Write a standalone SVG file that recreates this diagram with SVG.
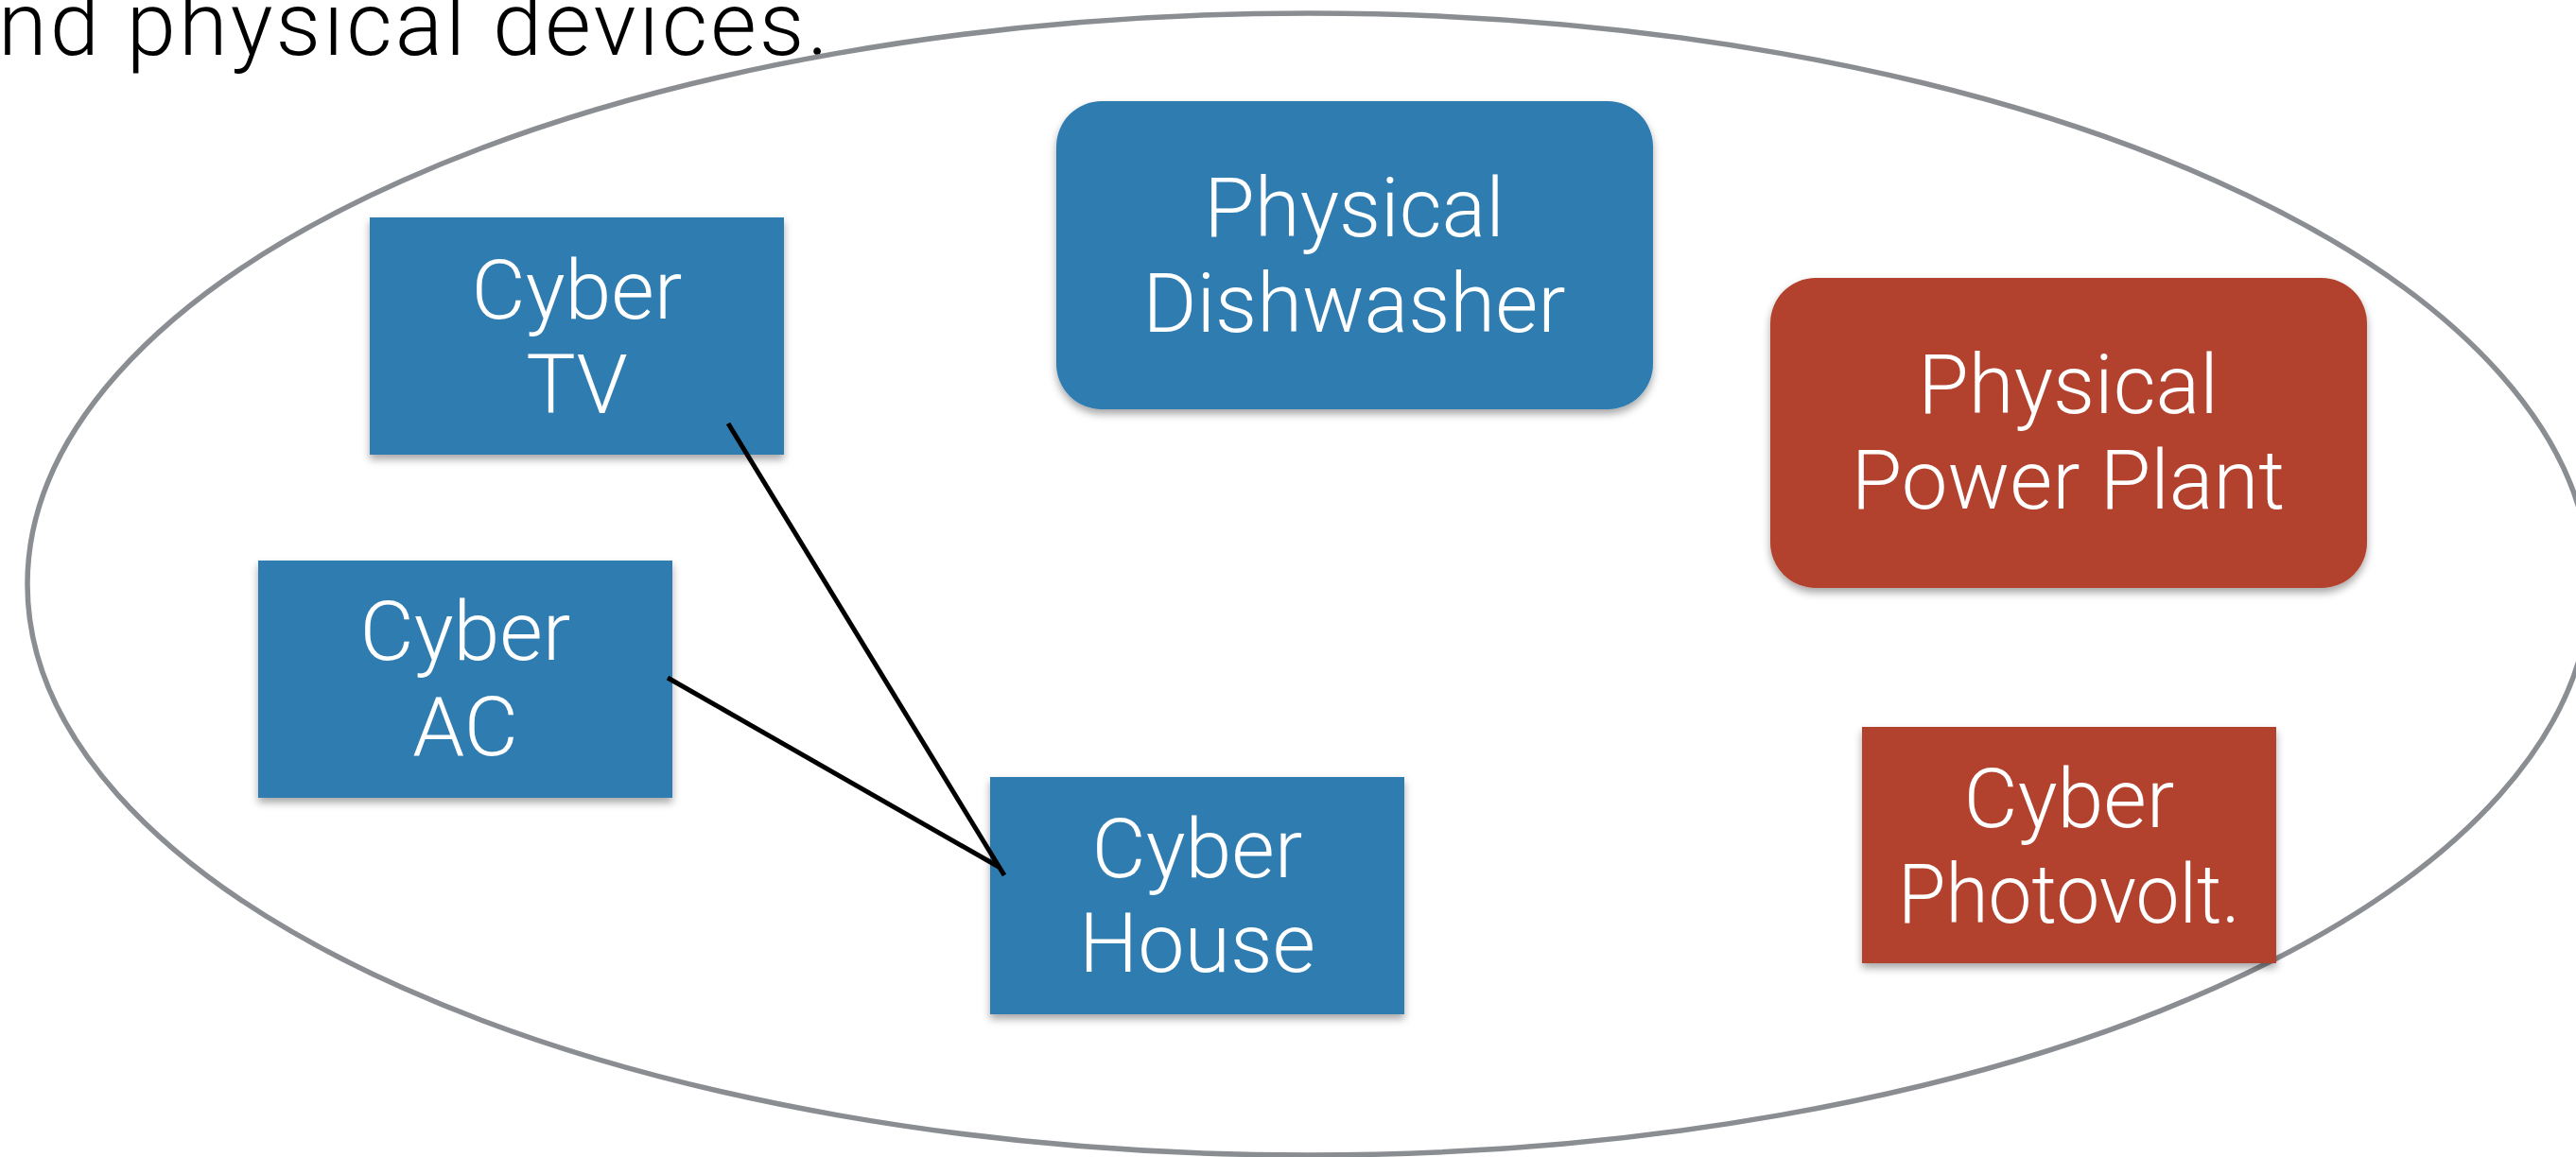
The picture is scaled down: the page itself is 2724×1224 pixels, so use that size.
<svg xmlns="http://www.w3.org/2000/svg" width="2724" height="1224" viewBox="0 0 2724 1224">
  <defs>
    <filter id="shadow" x="-10%" y="-10%" width="120%" height="130%">
      <feDropShadow dx="0" dy="5" stdDeviation="4" flood-color="#000" flood-opacity="0.35"/>
    </filter>
  </defs>
  <style>
    .label { font-family: Roboto, "Liberation Sans", Arial, sans-serif; font-weight: 300; fill: #ffffff; text-anchor: middle; }
    .cyber { font-size: 88px; }
    .phys { font-size: 87px; }
    .blue { fill: #2e7bb0; filter: url(#shadow); }
    .red { fill: #b2432f; filter: url(#shadow); }
    .title { font-family: Roboto, "Liberation Sans", Arial, sans-serif; font-weight: 300; font-size: 94px; fill: #000000; }
    .boundary { fill: none; stroke: #8a8d91; stroke-width: 5.5; }
    .link { stroke: #000000; stroke-width: 5; fill: none; }
  </style>

  <rect x="0" y="0" width="2724" height="1224" fill="#ffffff"/>

  <!-- heading line, partly off the top-left edge -->
  <text class="title" x="-2" y="58" textLength="878" lengthAdjust="spacing">nd physical devices.</text>

  <!-- grouping boundary -->
  <ellipse class="boundary" cx="1384" cy="618" rx="1355" ry="604"/>

  <g id="node-cyber-tv">
    <rect class="blue" x="391" y="230" width="438" height="251"/>
    <text class="label cyber" x="610" y="337">Cyber</text>
    <text class="label cyber" x="610" y="437">TV</text>
  </g>

  <g id="node-cyber-ac">
    <rect class="blue" x="273" y="593" width="438" height="251"/>
    <text class="label cyber" x="492" y="698">Cyber</text>
    <text class="label cyber" x="492" y="799">AC</text>
  </g>

  <g id="node-cyber-house">
    <rect class="blue" x="1047" y="822" width="438" height="251"/>
    <text class="label cyber" x="1266" y="928">Cyber</text>
    <text class="label cyber" x="1266" y="1028">House</text>
  </g>

  <g id="node-physical-dishwasher">
    <rect class="blue" x="1117" y="107" width="631" height="326" rx="48" ry="48"/>
    <text class="label phys" x="1432" y="250">Physical</text>
    <text class="label phys" x="1432" y="351">Dishwasher</text>
  </g>

  <g id="node-physical-power-plant">
    <rect class="red" x="1872" y="294" width="631" height="328" rx="48" ry="48"/>
    <text class="label phys" x="2187" y="437">Physical</text>
    <text class="label phys" x="2187" y="538">Power Plant</text>
  </g>

  <g id="node-cyber-photovolt">
    <rect class="red" x="1969" y="769" width="438" height="250"/>
    <text class="label cyber" x="2188" y="875">Cyber</text>
    <text class="label cyber" x="2188" y="976" textLength="362" lengthAdjust="spacingAndGlyphs">Photovolt.</text>
  </g>

  <g id="connectors">
    <line class="link" x1="770" y1="448" x2="1062" y2="926"/>
    <line class="link" x1="706" y1="717" x2="1056" y2="917"/>
  </g>
</svg>
